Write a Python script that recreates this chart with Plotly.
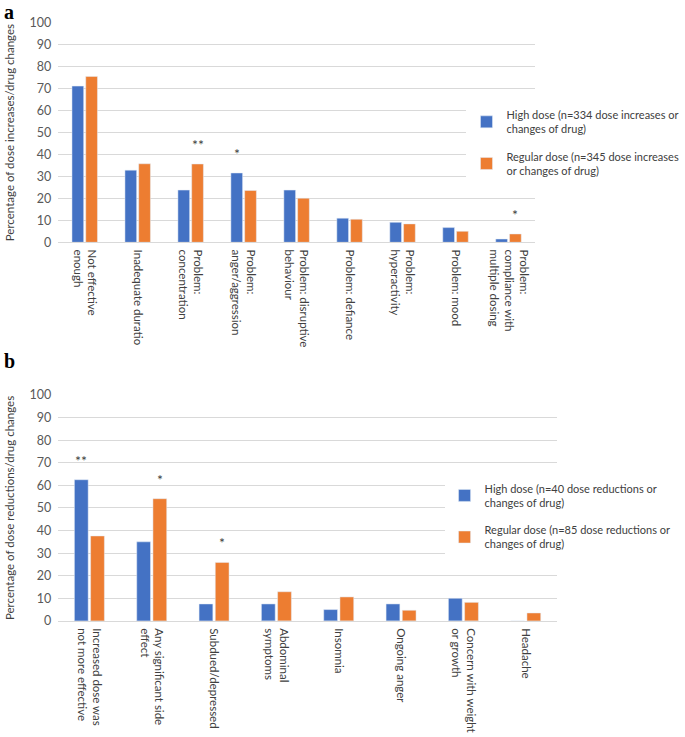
import plotly.graph_objects as go

# panel a - dose increases / drug changes
cats_a = ['Not effective<br>enough', 'Inadequate duratio', 'Problem:<br>concentration',
          'Problem:<br>anger/aggression', 'Problem: disruptive<br>behaviour', 'Problem: defiance',
          'Problem:<br>hyperactivity', 'Problem: mood', 'Problem:<br>compliance with<br>multiple dosing']
high_a = [71.2, 32.9, 23.8, 31.6, 23.8, 11.0, 9.1, 6.7, 1.5]
regular_a = [75.6, 35.8, 35.7, 23.6, 20.1, 10.5, 8.4, 5.0, 3.8]
# (category index, series, marker)
stars_a = [(2, 'regular', '**'), (3, 'high', '*'), (8, 'regular', '*')]

# panel b - dose reductions / drug changes
cats_b = ['Increased dose was<br>not more effective', 'Any significant side<br>effect',
          'Subdued/depressed', 'Abdominal<br>symptoms', 'Insomnia', 'Ongoing anger',
          'Concern with weight<br>or growth', 'Headache']
high_b = [62.5, 35.0, 7.5, 7.5, 5.0, 7.5, 10.0, 0.0]
regular_b = [37.6, 54.1, 25.9, 12.9, 10.6, 4.7, 8.2, 3.5]
stars_b = [(0, 'high', '**'), (1, 'regular', '*'), (2, 'regular', '*')]

BLUE = '#4472C4'
ORANGE = '#ED7D31'
FONT = 'Lato'
W, H = 685, 737
ML, MR, MT, MB = 0, 0, 10, 10
BARGAP = 0.48

dom_xa = [0.085, 0.781]
dom_xb = [0.085, 0.813]
dom_ya = [0.676, 0.982]
dom_yb = [0.148, 0.463]

fig = go.Figure()
fig.add_trace(go.Bar(x=cats_a, y=high_a, name='High dose (n=334 dose increases or<br>changes of drug)',
                     marker_color=BLUE, xaxis='x', yaxis='y', legend='legend', legendgroup='a1'))
fig.add_trace(go.Bar(x=cats_a, y=regular_a, name='Regular dose (n=345 dose increases<br>or changes of drug)',
                     marker_color=ORANGE, xaxis='x', yaxis='y', legend='legend', legendgroup='a2'))
fig.add_trace(go.Bar(x=cats_b, y=high_b, name='High dose (n=40 dose reductions or<br>changes of drug)',
                     marker_color=BLUE, xaxis='x2', yaxis='y2', legend='legend2', legendgroup='b1'))
fig.add_trace(go.Bar(x=cats_b, y=regular_b, name='Regular dose (n=85 dose reductions or<br>changes of drug)',
                     marker_color=ORANGE, xaxis='x2', yaxis='y2', legend='legend2', legendgroup='b2'))

# significance stars above the bars
def add_stars(stars, cats, high, regular, xref, yref, dom):
    catw = (dom[1] - dom[0]) * (W - ML - MR) / len(cats)
    shift = 0.25 * (1 - BARGAP) * catw
    for i, series, txt in stars:
        val = high[i] if series == 'high' else regular[i]
        fig.add_annotation(x=cats[i], y=val, xref=xref, yref=yref, text=txt, showarrow=False,
                           xshift=-shift if series == 'high' else shift, yshift=9, yanchor='bottom',
                           font=dict(family=FONT, size=14, color='#404040'))

add_stars(stars_a, cats_a, high_a, regular_a, 'x', 'y', dom_xa)
add_stars(stars_b, cats_b, high_b, regular_b, 'x2', 'y2', dom_xb)

for lbl, yy in [('a', 1.016), ('b', 0.529)]:
    fig.add_annotation(x=0.003, y=yy, xref='paper', yref='paper', text='<b>' + lbl + '</b>',
                       showarrow=False, xanchor='left', yanchor='top',
                       font=dict(family='Liberation Serif', size=20, color='black'))

xax = dict(type='category', showline=True, linecolor='#D9D9D9', linewidth=1, showgrid=False,
           ticks='', tickangle=90, automargin=False, ticklabelstandoff=4,
           tickfont=dict(family=FONT, size=11.5, color='#404040'))
yax = dict(range=[0, 100], dtick=10, showgrid=True, gridcolor='#D9D9D9', gridwidth=1,
           zeroline=False, ticks='', automargin=False, ticklabelstandoff=6,
           tickfont=dict(family=FONT, size=12.5, color='#595959'))

legfont = dict(family=FONT, size=11, color='#404040')

fig.update_layout(
    width=W, height=H,
    margin=dict(l=ML, r=MR, t=MT, b=MB, autoexpand=False),
    paper_bgcolor='white', plot_bgcolor='white',
    barmode='group', bargap=BARGAP, bargroupgap=0.15,
    font=dict(family=FONT, color='#404040'),
    xaxis=dict(xax, domain=dom_xa, anchor='y'),
    yaxis=dict(yax, domain=dom_ya, anchor='x',
               title=dict(text='Percentage of dose increases/drug changes', standoff=12,
                          font=dict(family=FONT, size=11.5, color='#404040'))),
    xaxis2=dict(xax, domain=dom_xb, anchor='y2'),
    yaxis2=dict(yax, domain=dom_yb, anchor='x2',
                title=dict(text='Percentage of dose reductions/drug changes', standoff=12,
                           font=dict(family=FONT, size=11.5, color='#404040'))),
    legend=dict(x=0.681, y=0.873, xanchor='left', yanchor='top', bgcolor='white',
                tracegroupgap=10, itemwidth=30, font=legfont),
    legend2=dict(x=0.649, y=0.352, xanchor='left', yanchor='top', bgcolor='white',
                 tracegroupgap=10, itemwidth=30, font=legfont),
)

# drop the default page margin so the figure sits at the window corner
fig.write_html('out.html', config={'displayModeBar': False},
               post_script="document.body.style.margin='0';")
